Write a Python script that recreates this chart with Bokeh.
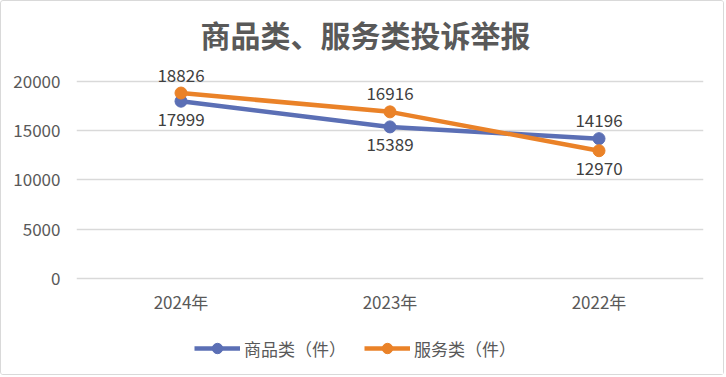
from bokeh.plotting import figure
from bokeh.models import ColumnDataSource, LabelSet, Legend, LegendItem, FixedTicker, Range1d
from bokeh.core.properties import value
from bokeh.embed import file_html
from bokeh.resources import INLINE

years = ["2024年", "2023年", "2022年"]
goods = [17999, 15389, 14196]
services = [18826, 16916, 12970]
goods_name = "商品类（件）"
services_name = "服务类（件）"
title = "商品类、服务类投诉举报"
y_ticks = [0, 5000, 10000, 15000, 20000]

# label placement: +1 above the point, -1 below
goods_side = [-1, -1, 1]
services_side = [1, 1, -1]

FONT = "Noto Sans CJK SC"
TXT = "#595959"
BLUE = "#5b6fb5"
ORANGE = "#ea8228"

p = figure(x_range=years, y_range=Range1d(-9340, 22130), width=724, height=375,
           output_backend="svg", toolbar_location=None,
           min_border_left=75, min_border_right=22, min_border_top=59, min_border_bottom=6)
p.styles = {"border": "1px solid #d9d9d9", "border-radius": "3px"}

p.title.text = title
p.title.align = "left"
p.title.offset = 124
p.title.text_font = FONT
p.title.text_font_size = "30px"
p.title.text_font_style = "bold"
p.title.text_color = TXT
p.title.standoff = 10

p.outline_line_color = None
p.xgrid.grid_line_color = None
p.ygrid.grid_line_color = "#d9d9d9"
p.ygrid.grid_line_width = 1.5
p.yaxis.ticker = FixedTicker(ticks=y_ticks)
p.xaxis.visible = False
ax = p.yaxis
ax.axis_line_color = None
ax.major_tick_line_color = None
ax.minor_tick_line_color = None
ax.major_label_text_font = FONT
ax.major_label_text_font_size = "17px"
ax.major_label_text_color = TXT
ax.major_label_standoff = 10

# category labels under the zero line
cat_src = ColumnDataSource(dict(x=years, y=[0] * len(years), t=years))
p.add_layout(LabelSet(x="x", y="y", text="t", source=cat_src, y_offset=-23,
                      text_align="center", text_baseline="middle",
                      text_font=value(FONT), text_font_size="17px", text_color=TXT))

src_g = ColumnDataSource(dict(x=years, y=goods, t=[str(v) for v in goods],
                              off=[s * 18 for s in goods_side]))
src_s = ColumnDataSource(dict(x=years, y=services, t=[str(v) for v in services],
                              off=[s * 18 for s in services_side]))

lg = p.line("x", "y", source=src_g, line_color=BLUE, line_width=4.5)
cg = p.scatter("x", "y", source=src_g, size=12, color=BLUE)
ls = p.line("x", "y", source=src_s, line_color=ORANGE, line_width=4.5)
cs = p.scatter("x", "y", source=src_s, size=12, color=ORANGE)

for src in (src_g, src_s):
    p.add_layout(LabelSet(x="x", y="y", text="t", source=src, y_offset="off",
                          text_align="center", text_baseline="middle",
                          text_font=value(FONT), text_font_size="17px", text_color="#404040"))

legend = Legend(items=[LegendItem(label=goods_name, renderers=[lg, cg]),
                       LegendItem(label=services_name, renderers=[ls, cs])],
                orientation="horizontal", location=(118, 9),
                label_text_font=FONT, label_text_font_size="17px", label_text_color=TXT,
                glyph_width=46, glyph_height=26, spacing=18, label_standoff=4,
                border_line_color=None, background_fill_alpha=0, margin=0, padding=2)
p.add_layout(legend)

open("out.html", "w").write(file_html(p, INLINE))
